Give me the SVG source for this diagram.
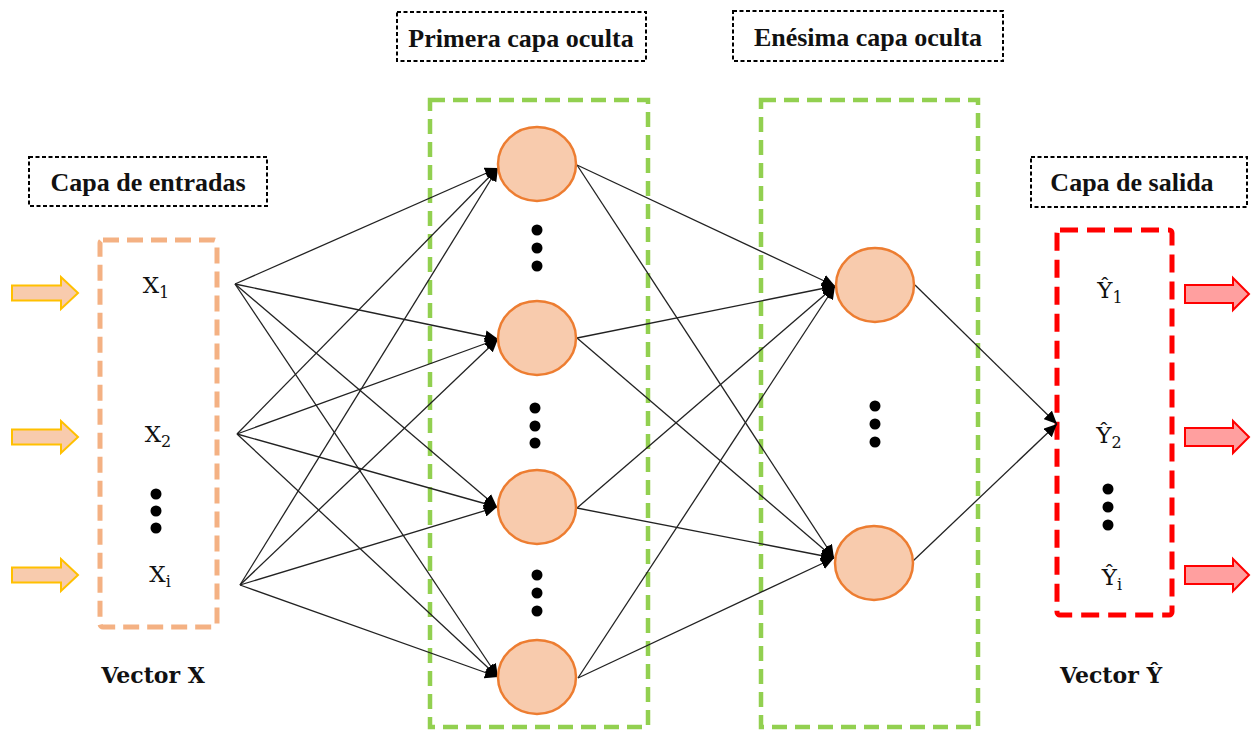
<svg xmlns="http://www.w3.org/2000/svg" width="1252" height="735" viewBox="0 0 1252 735">
<defs>
<marker id="ah" markerUnits="userSpaceOnUse" markerWidth="14" markerHeight="12" refX="13" refY="6" orient="auto">
<path d="M0,0 L13,6 L0,12 z" fill="#000"/>
</marker>
<style>
.lbl{fill:none;stroke:#000;stroke-width:2;stroke-dasharray:4 2.5}
.lt{font-family:"Liberation Serif",serif;font-weight:bold;font-size:26px;fill:#111;text-anchor:middle}
.vt{font-family:"DejaVu Serif",serif;font-weight:bold;font-size:22px;fill:#111;text-anchor:middle}
.var{font-family:"DejaVu Serif",serif;font-size:23px;fill:#111;text-anchor:middle}
.sub{font-size:16px}
.node{fill:#F8CBAD;stroke:#ED7D31;stroke-width:2.5}
.dot{fill:#000}
.conn line{stroke:#222;stroke-width:1.3;marker-end:url(#ah)}
.inArr{fill:#F8CBAD;stroke:#FFC000;stroke-width:2}
.outArr{fill:#FF9F9F;stroke:#FF0000;stroke-width:2}
</style>
</defs>
<rect width="1252" height="735" fill="#fff"/>

<!-- layer boxes -->
<g id="input-layer">
<rect x="100" y="240" width="117" height="387" rx="3" fill="none" stroke="#F4B183" stroke-width="5" stroke-dasharray="16 8"/>
<text class="var" x="156" y="293">X<tspan class="sub" dy="5">1</tspan></text>
<text class="var" x="158" y="442">X<tspan class="sub" dy="5">2</tspan></text>
<circle class="dot" cx="156" cy="494" r="5.5"/>
<circle class="dot" cx="156" cy="511" r="5.5"/>
<circle class="dot" cx="156" cy="528" r="5.5"/>
<text class="var" x="160" y="582">X<tspan class="sub" dy="5">i</tspan></text>
</g>
<g id="hidden1-box">
<rect x="430" y="100" width="218" height="627" fill="none" stroke="#92D050" stroke-width="4.5" stroke-dasharray="15 8"/>
</g>
<g id="hiddenN-box">
<rect x="761" y="100" width="217" height="627" fill="none" stroke="#92D050" stroke-width="4.5" stroke-dasharray="15 8"/>
</g>
<g id="output-layer">
<rect x="1057" y="230" width="115" height="385" rx="3" fill="none" stroke="#FF0000" stroke-width="5" stroke-dasharray="18 9"/>
<text class="var" x="1110" y="298">Ŷ<tspan class="sub" dy="5">1</tspan></text>
<text class="var" x="1109" y="443">Ŷ<tspan class="sub" dy="5">2</tspan></text>
<circle class="dot" cx="1108" cy="489" r="5.5"/>
<circle class="dot" cx="1108" cy="507" r="5.5"/>
<circle class="dot" cx="1108" cy="525" r="5.5"/>
<text class="var" x="1112" y="585">Ŷ<tspan class="sub" dy="5">i</tspan></text>
</g>

<!-- labels -->
<g id="label-entradas">
<rect class="lbl" x="29" y="157" width="238" height="49"/>
<text class="lt" x="148" y="191">Capa de entradas</text>
</g>
<g id="label-primera">
<rect class="lbl" x="397" y="12" width="249" height="49"/>
<text class="lt" x="521" y="47">Primera capa oculta</text>
</g>
<g id="label-enesima">
<rect class="lbl" x="733" y="11" width="270" height="50"/>
<text class="lt" x="868" y="46">Enésima capa oculta</text>
</g>
<g id="label-salida">
<rect class="lbl" x="1031" y="157" width="216" height="50"/>
<text class="lt" x="1132" y="191">Capa de salida</text>
</g>
<g id="label-vectorX">
<text class="vt" x="153" y="683">Vector X</text>
</g>
<g id="label-vectorY">
<text class="vt" x="1111" y="683">Vector Ŷ</text>
</g>

<!-- input / output block arrows -->
<g id="input-arrows">
<polygon class="inArr" points="12,285.5 61,285.5 61,277 78,293 61,309 61,300.5 12,300.5"/>
<polygon class="inArr" points="12,429.5 61,429.5 61,421 78,437 61,453 61,444.5 12,444.5"/>
<polygon class="inArr" points="12,567.5 61,567.5 61,559 78,575 61,591 61,582.5 12,582.5"/>
</g>
<g id="output-arrows">
<polygon class="outArr" points="1185,285 1233,285 1233,278 1249,294 1233,310 1233,303 1185,303"/>
<polygon class="outArr" points="1185,428 1233,428 1233,421 1249,437 1233,453 1233,446 1185,446"/>
<polygon class="outArr" points="1185,566 1233,566 1233,559 1249,575 1233,591 1233,584 1185,584"/>
</g>

<!-- connectors -->
<g id="connectors" class="conn">
<line x1="235" y1="284" x2="498" y2="168"/>
<line x1="235" y1="284" x2="498" y2="339"/>
<line x1="235" y1="284" x2="497" y2="507"/>
<line x1="235" y1="284" x2="498" y2="677"/>
<line x1="237" y1="434" x2="498" y2="168"/>
<line x1="237" y1="434" x2="498" y2="339"/>
<line x1="237" y1="434" x2="497" y2="507"/>
<line x1="237" y1="434" x2="498" y2="677"/>
<line x1="240" y1="585" x2="498" y2="168"/>
<line x1="240" y1="585" x2="498" y2="339"/>
<line x1="240" y1="585" x2="497" y2="507"/>
<line x1="240" y1="585" x2="498" y2="677"/>
<line x1="577" y1="165" x2="835" y2="286"/>
<line x1="577" y1="165" x2="834" y2="558"/>
<line x1="577" y1="338" x2="835" y2="286"/>
<line x1="577" y1="338" x2="834" y2="558"/>
<line x1="577" y1="508" x2="835" y2="286"/>
<line x1="577" y1="508" x2="834" y2="558"/>
<line x1="578" y1="678" x2="835" y2="286"/>
<line x1="578" y1="678" x2="834" y2="558"/>
<line x1="915" y1="285" x2="1057" y2="424"/>
<line x1="913" y1="561" x2="1057" y2="424"/>
</g>

<!-- nodes -->
<g id="h1-n1"><ellipse class="node" cx="537" cy="164" rx="39" ry="37"/></g>
<g id="h1-dots1"><circle class="dot" cx="537" cy="230" r="5.5"/><circle class="dot" cx="537" cy="248" r="5.5"/><circle class="dot" cx="537" cy="266" r="5.5"/></g>
<g id="h1-n2"><ellipse class="node" cx="537" cy="338" rx="39" ry="37"/></g>
<g id="h1-dots2"><circle class="dot" cx="535" cy="408" r="5.5"/><circle class="dot" cx="535" cy="426" r="5.5"/><circle class="dot" cx="535" cy="443" r="5.5"/></g>
<g id="h1-n3"><ellipse class="node" cx="537" cy="507" rx="39" ry="37"/></g>
<g id="h1-dots3"><circle class="dot" cx="537" cy="575" r="5.5"/><circle class="dot" cx="537" cy="593" r="5.5"/><circle class="dot" cx="537" cy="611" r="5.5"/></g>
<g id="h1-n4"><ellipse class="node" cx="537" cy="677" rx="39" ry="37"/></g>
<g id="hn-n1"><ellipse class="node" cx="875" cy="285" rx="39" ry="37"/></g>
<g id="hn-dots"><circle class="dot" cx="875" cy="406" r="5.5"/><circle class="dot" cx="875" cy="424" r="5.5"/><circle class="dot" cx="875" cy="442" r="5.5"/></g>
<g id="hn-n2"><ellipse class="node" cx="874" cy="563" rx="39" ry="37"/></g>
</svg>
